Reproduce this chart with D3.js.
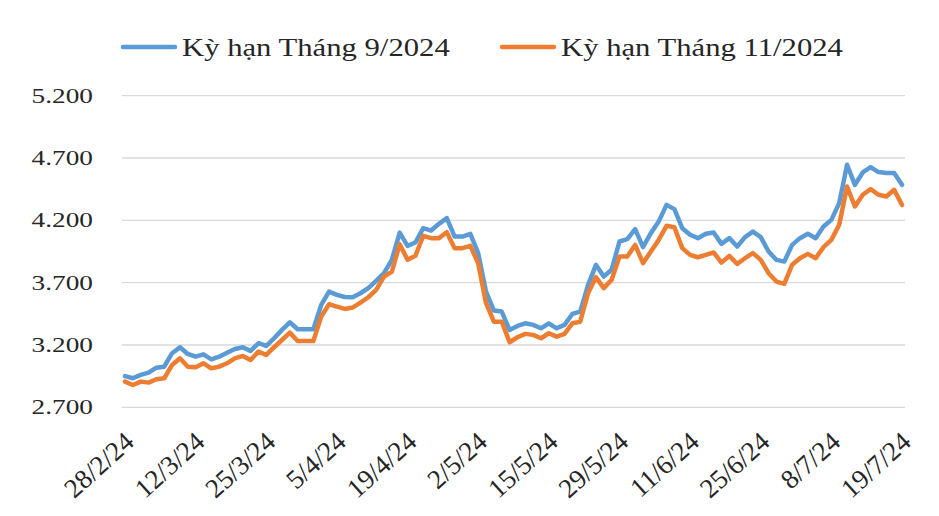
<!DOCTYPE html>
<html>
<head>
<meta charset="utf-8">
<script src="https://cdn.jsdelivr.net/npm/d3@7"></script>
<style>
  body { margin: 0; background: #fff; }
  svg { display: block; }
</style>
</head>
<body>
<div id="chart"></div>
<script>
// trading days shown on the category axis
var dates = [
  "28/2/24","29/2/24","1/3/24","4/3/24","5/3/24","6/3/24","7/3/24","8/3/24","11/3/24","12/3/24",
  "13/3/24","14/3/24","15/3/24","18/3/24","19/3/24","20/3/24","21/3/24","22/3/24","25/3/24","26/3/24",
  "27/3/24","28/3/24","29/3/24","1/4/24","2/4/24","3/4/24","4/4/24","5/4/24","8/4/24","9/4/24",
  "10/4/24","11/4/24","12/4/24","15/4/24","16/4/24","17/4/24","19/4/24","22/4/24","23/4/24","24/4/24",
  "25/4/24","26/4/24","29/4/24","30/4/24","1/5/24","2/5/24","3/5/24","6/5/24","7/5/24","8/5/24",
  "9/5/24","10/5/24","13/5/24","14/5/24","15/5/24","16/5/24","17/5/24","20/5/24","21/5/24","22/5/24",
  "23/5/24","24/5/24","28/5/24","29/5/24","30/5/24","31/5/24","3/6/24","4/6/24","5/6/24","6/6/24",
  "7/6/24","10/6/24","11/6/24","12/6/24","13/6/24","14/6/24","17/6/24","18/6/24","20/6/24","21/6/24",
  "24/6/24","25/6/24","26/6/24","27/6/24","28/6/24","1/7/24","2/7/24","3/7/24","4/7/24","5/7/24",
  "8/7/24","9/7/24","10/7/24","11/7/24","12/7/24","15/7/24","16/7/24","17/7/24","18/7/24","19/7/24"
];

var tickLabels = ["28/2/24","12/3/24","25/3/24","5/4/24","19/4/24","2/5/24",
  "15/5/24","29/5/24","11/6/24","25/6/24","8/7/24","19/7/24"];

var yTicks = [2700, 3200, 3700, 4200, 4700, 5200];

var sep2024 = [
  2950,2933,2960,2978,3018,3026,3134,3182,3128,3106,
  3125,3085,3106,3138,3168,3182,3152,3214,3192,3254,
  3321,3382,3326,3326,3326,3521,3628,3602,3585,3583,
  3615,3656,3714,3776,3883,4102,3995,4022,4137,4118,
  4172,4218,4070,4070,4092,3937,3628,3476,3468,3321,
  3353,3374,3361,3334,3374,3334,3361,3449,3468,3680,
  3843,3749,3803,4030,4049,4129,3985,4097,4190,4324,
  4290,4137,4084,4057,4092,4102,4011,4057,3990,4065,
  4110,4065,3950,3883,3869,4003,4057,4092,4057,4150,
  4204,4338,4646,4485,4584,4627,4587,4579,4579,4485
];

var nov2024 = [
  2906,2879,2906,2898,2925,2933,3040,3093,3026,3021,
  3053,3013,3026,3053,3093,3112,3080,3147,3120,3182,
  3240,3299,3232,3232,3232,3428,3527,3508,3489,3500,
  3540,3583,3642,3749,3789,4009,3883,3915,4076,4057,
  4057,4105,3977,3977,3995,3856,3535,3387,3387,3222,
  3262,3289,3281,3254,3294,3267,3289,3374,3387,3615,
  3744,3656,3722,3909,3909,4003,3856,3950,4043,4156,
  4145,3977,3923,3904,3923,3942,3861,3915,3851,3896,
  3937,3883,3776,3709,3690,3843,3896,3931,3896,3985,
  4043,4164,4471,4311,4405,4450,4405,4391,4445,4324
];

var seriesNames = ["Kỳ hạn Tháng 9/2024", "Kỳ hạn Tháng 11/2024"];
var colors = ["#5B9BD5", "#ED7D31"];

var W = 939, H = 516;
var svg = d3.select("#chart").append("svg")
    .attr("width", W).attr("height", H);

var x = d3.scalePoint().domain(dates).range([125, 902]);
var y = d3.scaleLinear().domain([2700, 5200]).range([407.3, 95.7]);

var fmt = function(v) { return d3.format(",")(v).replace(/,/g, "."); };

// grid lines
svg.append("g")
  .selectAll("line")
  .data(yTicks)
  .join("line")
    .attr("x1", 122).attr("x2", 905)
    .attr("y1", function(d) { return y(d); })
    .attr("y2", function(d) { return y(d); })
    .attr("stroke", "#d9d9d9")
    .attr("stroke-width", 1.3);

// y axis labels (text in the source looks horizontally stretched)
svg.append("g")
  .selectAll("text")
  .data(yTicks)
  .join("text")
    .attr("transform", function(d) { return "translate(93," + y(d) + ") scale(1.3,1)"; })
    .attr("text-anchor", "end")
    .attr("dy", "0.33em")
    .attr("font-family", "'Liberation Serif', serif")
    .attr("font-size", 21)
    .attr("fill", "#262626")
    .text(fmt);

// x axis labels
svg.append("g")
  .selectAll("text")
  .data(tickLabels)
  .join("text")
    .attr("transform", function(d) { return "translate(" + (x(d) - 2) + ",430) rotate(-42)"; })
    .attr("text-anchor", "end")
    .attr("dy", "0.7em")
    .attr("font-family", "'Liberation Serif', serif")
    .attr("font-size", 27)
    .attr("fill", "#262626")
    .text(function(d) { return d; });

// lines
var line = d3.line()
    .x(function(d, i) { return x(dates[i]); })
    .y(function(d) { return y(d); });

svg.append("g")
  .selectAll("path")
  .data([sep2024, nov2024])
  .join("path")
    .attr("fill", "none")
    .attr("stroke", function(d, i) { return colors[i]; })
    .attr("stroke-width", 4.5)
    .attr("stroke-linejoin", "round")
    .attr("stroke-linecap", "round")
    .attr("d", line);

// legend
var legendX = [123, 502];
var leg = svg.append("g")
  .selectAll("g")
  .data(seriesNames)
  .join("g")
    .attr("transform", function(d, i) { return "translate(" + legendX[i] + ",47)"; });
leg.append("line")
    .attr("x1", 0).attr("x2", 52)
    .attr("stroke", function(d, i) { return colors[i]; })
    .attr("stroke-width", 4.5)
    .attr("stroke-linecap", "round");
leg.append("text")
    .attr("transform", "translate(59,0) scale(1.18,1)")
    .attr("dy", "0.35em")
    .attr("font-family", "'Liberation Serif', serif")
    .attr("font-size", 26)
    .attr("fill", "#262626")
    .text(function(d) { return d; });
</script>
</body>
</html>
